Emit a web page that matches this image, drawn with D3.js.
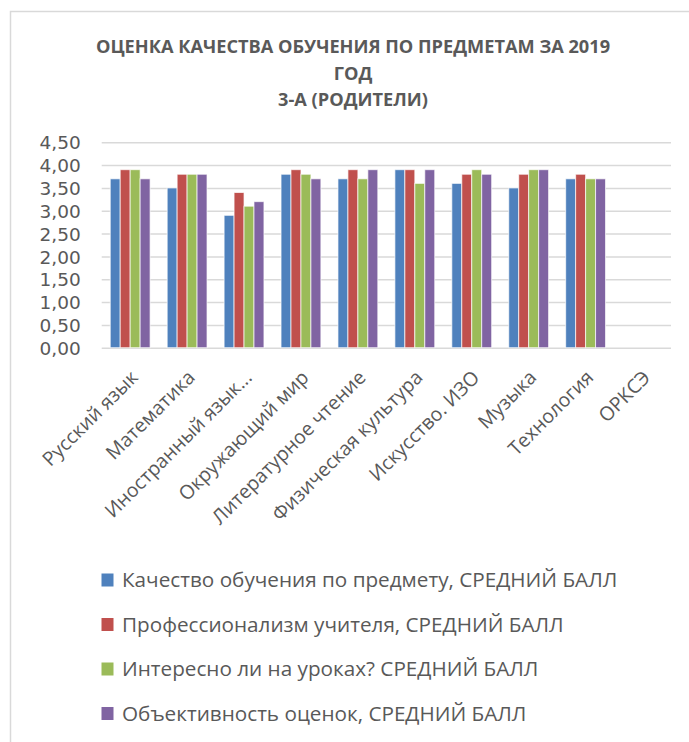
<!DOCTYPE html>
<html><head><meta charset="utf-8">
<script src="https://cdn.jsdelivr.net/npm/d3@7"></script>
<style>body{margin:0;background:#fff}svg{display:block}</style>
</head><body>
<script>
const categories = ["Русский язык","Математика","Иностранный язык...","Окружающий мир","Литературное чтение","Физическая культура","Искусство. ИЗО","Музыка","Технология","ОРКСЭ"];
const seriesNames = ["Качество обучения по предмету, СРЕДНИЙ БАЛЛ","Профессионализм учителя, СРЕДНИЙ БАЛЛ","Интересно ли на уроках? СРЕДНИЙ БАЛЛ","Объективность оценок, СРЕДНИЙ БАЛЛ"];
const quality      = [3.7, 3.5, 2.9, 3.8, 3.7, 3.9, 3.6, 3.5, 3.7, null];
const professional = [3.9, 3.8, 3.4, 3.9, 3.9, 3.9, 3.8, 3.8, 3.8, null];
const interest     = [3.9, 3.8, 3.1, 3.8, 3.7, 3.6, 3.9, 3.9, 3.7, null];
const objectivity  = [3.7, 3.8, 3.2, 3.7, 3.9, 3.9, 3.8, 3.9, 3.7, null];
const yTicks = [0, 0.5, 1, 1.5, 2, 2.5, 3, 3.5, 4, 4.5];
const titleLines = ["ОЦЕНКА КАЧЕСТВА ОБУЧЕНИЯ ПО ПРЕДМЕТАМ ЗА 2019","ГОД","3-А (РОДИТЕЛИ)"];
const colors = ["#4F81BD","#C0504D","#9BBB59","#8064A2"];
const seriesValues = [quality, professional, interest, objectivity];

const W = 689, H = 742;
const svg = d3.select("body").append("svg").attr("width", W).attr("height", H);
const font = "'Open Sans', sans-serif";
const textColor = "#595959";

// frame
svg.append("path").attr("d", `M10.5,${H} V11.5 H${W}`).attr("fill","none").attr("stroke","#d9d9d9").attr("stroke-width",1.5);

// title
svg.append("text").attr("x", 353).attr("y", 53).attr("text-anchor","middle")
  .attr("font-family", font).attr("font-weight","bold").attr("font-size",18.2).attr("fill",textColor)
  .selectAll("tspan").data(titleLines).join("tspan")
  .attr("x",353).attr("dy",(d,i)=> i===0?0:26.5).text(d=>d);

const x0 = d3.scaleBand().domain(categories).range([101.7, 671]).paddingInner(0.3).paddingOuter(0.15);
const x1 = d3.scaleBand().domain(d3.range(4)).range([0, x0.bandwidth()]);
const y = d3.scaleLinear().domain([0, 4.5]).range([347.7, 142.3]);

// gridlines
const yAxis = d3.axisLeft(y).tickValues(yTicks).tickSize(-(671-101.7)).tickPadding(21)
  .tickFormat(d => d3.format(".2f")(d).replace(".", ","));
const gy = svg.append("g").attr("transform","translate(101.7,0)").call(yAxis);
gy.select(".domain").remove();
gy.selectAll(".tick line").attr("stroke","#d9d9d9").attr("stroke-width",1.5);
gy.selectAll(".tick text").attr("font-family","'DejaVu Sans', sans-serif").attr("font-size",18.5).attr("fill",textColor).attr("dy","0.36em");

// bars
const groups = svg.append("g").selectAll("g").data(categories).join("g")
  .attr("transform", d => `translate(${x0(d)},0)`);
groups.selectAll("rect").data((d,i) => seriesValues.map((s,k)=>({k, v:s[i]})).filter(e=>e.v!=null))
  .join("rect")
  .attr("x", e => x1(e.k)).attr("width", x1.bandwidth())
  .attr("y", e => y(e.v)).attr("height", e => y(0) - y(e.v))
  .attr("fill", e => colors[e.k]).attr("stroke","#fff").attr("stroke-width",1).attr("stroke-opacity",0.7);

// x axis labels
const xAxis = d3.axisBottom(x0).tickSize(0).tickPadding(0);
const gx = svg.append("g").attr("transform",`translate(0,${y(0)})`).call(xAxis);
gx.select(".domain").remove();
gx.selectAll(".tick text").attr("font-family",font).attr("font-size",19.5).attr("fill",textColor)
  .attr("text-anchor","end").attr("dy",0)
  .attr("transform","translate(9,31) rotate(-45)");

// legend
const legend = svg.append("g").selectAll("g").data(seriesNames).join("g")
  .attr("transform",(d,i)=>`translate(101.5,${580 + i*44.5})`);
legend.append("rect").attr("x",0).attr("y",-6.5).attr("width",12).attr("height",13).attr("fill",(d,i)=>colors[i]);
legend.append("text").attr("x",20.5).attr("y",0).attr("dy","0.36em")
  .attr("font-family",font).attr("font-size",20.7).attr("fill",textColor).text(d=>d);
</script>
</body></html>
